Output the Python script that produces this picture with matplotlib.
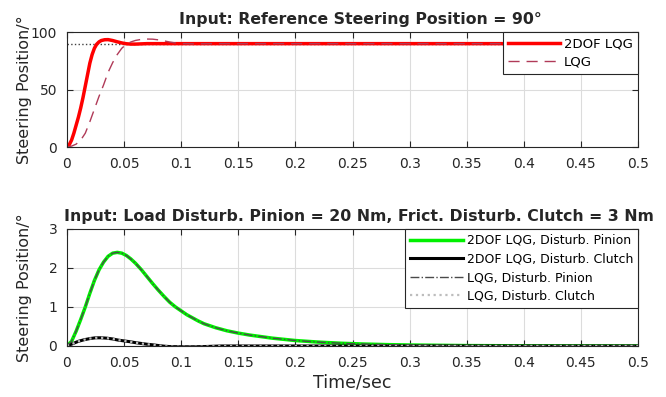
import matplotlib.pyplot as plt

plt.rcParams['font.family'] = ['DejaVu Sans']

# Step response to 90 deg reference
t_ref = [0, 0.002, 0.004, 0.006, 0.008, 0.010, 0.012, 0.014, 0.016, 0.018,
         0.020, 0.022, 0.024, 0.026, 0.028, 0.030, 0.033, 0.036, 0.040, 0.044,
         0.048, 0.052, 0.056, 0.060, 0.065, 0.070, 0.080, 0.5]
pos_2dof = [0, 2, 6, 12, 19, 26, 34, 43, 53, 63,
            73, 80.5, 86, 89.5, 91.5, 92.7, 93.4, 93.5, 92.7, 91.6,
            90.6, 89.9, 89.6, 89.6, 89.8, 90, 90, 90]

t_lqg = [0, 0.004, 0.008, 0.012, 0.016, 0.020, 0.024, 0.028, 0.032, 0.036,
         0.040, 0.044, 0.048, 0.052, 0.056, 0.060, 0.065, 0.070, 0.075, 0.080,
         0.085, 0.090, 0.095, 0.100, 0.110, 0.120, 0.130, 0.5]
pos_lqg = [0, 0.8, 2.5, 6, 12, 22, 33, 44, 54, 65,
           73.5, 80.5, 86, 89.5, 91.5, 92.8, 93.7, 94, 93.9, 93.3,
           92.4, 91.4, 90.6, 90.1, 89.8, 89.9, 90, 90]

ref_t = [0, 0.5]
ref_pos = [90, 90]

# Disturbance responses
t_pin = [0, 0.004, 0.008, 0.012, 0.016, 0.020, 0.024, 0.028, 0.032, 0.036,
         0.040, 0.044, 0.048, 0.052, 0.056, 0.060, 0.065, 0.070, 0.075, 0.080,
         0.085, 0.090, 0.095, 0.100, 0.105, 0.110, 0.115, 0.120, 0.130, 0.140,
         0.150, 0.160, 0.170, 0.180, 0.190, 0.200, 0.220, 0.240, 0.260, 0.280,
         0.300, 0.350, 0.400, 0.500]
pinion = [0, 0.12, 0.38, 0.68, 1.0, 1.35, 1.68, 1.95, 2.15, 2.3,
          2.38, 2.4, 2.38, 2.32, 2.23, 2.12, 1.96, 1.78, 1.6, 1.43,
          1.27, 1.12, 1.0, 0.9, 0.8, 0.72, 0.64, 0.57, 0.47, 0.39,
          0.33, 0.28, 0.24, 0.2, 0.17, 0.14, 0.1, 0.07, 0.05, 0.035,
          0.025, 0.01, 0.004, 0]

t_clu = [0, 0.005, 0.010, 0.015, 0.020, 0.025, 0.030, 0.035, 0.040, 0.045,
         0.050, 0.055, 0.060, 0.065, 0.070, 0.075, 0.080, 0.085, 0.090, 0.100,
         0.110, 0.120, 0.130, 0.135, 0.500]
clutch = [0, 0.06, 0.12, 0.16, 0.19, 0.21, 0.21, 0.2, 0.18, 0.15,
          0.13, 0.11, 0.085, 0.065, 0.045, 0.03, 0.012, -0.005, -0.015, -0.02,
          -0.02, -0.015, -0.005, 0, 0]

xticks = [0, 0.05, 0.1, 0.15, 0.2, 0.25, 0.3, 0.35, 0.4, 0.45, 0.5]
xlabels = ['0', '0.05', '0.1', '0.15', '0.2', '0.25', '0.3', '0.35', '0.4', '0.45', '0.5']

fig = plt.figure(figsize=(6.66, 3.97), dpi=100)
ax1 = fig.add_axes([0.1006, 0.6297, 0.8574, 0.2893])
ax2 = fig.add_axes([0.1006, 0.1285, 0.8574, 0.2947])


def style(ax):
    ax.set_xlim(0, 0.5)
    ax.set_xticks(xticks)
    ax.set_xticklabels(xlabels)
    ax.grid(True, color='#dcdcdc', linewidth=0.8)
    ax.set_axisbelow(True)
    ax.tick_params(direction='in', top=True, right=True, labelsize=10,
                   colors='#262626', length=4, width=0.8, pad=7)
    for s in ax.spines.values():
        s.set_color('#262626')
        s.set_linewidth(0.8)
    ax.set_ylabel('Steering Position/°', fontsize=11.5, color='#262626')
    ax.yaxis.set_label_coords(-0.062, 0.5)


# top panel
ax1.plot(ref_t, ref_pos, ':', color='#404040', linewidth=1)
l1, = ax1.plot(t_ref, pos_2dof, '-', color='#ff0000', linewidth=2.5, label='2DOF LQG')
l2, = ax1.plot(t_lqg, pos_lqg, '--', color='#b03a58', linewidth=1, dashes=(8, 5), label='LQG')
ax1.set_ylim(0, 100)
ax1.set_yticks([0, 50, 100])
style(ax1)
ax1.set_title('Input: Reference Steering Position = 90°', fontsize=11.3,
              fontweight='bold', color='#262626', pad=6, x=0.514)
leg1 = ax1.legend(handles=[l1, l2], loc='upper right', bbox_to_anchor=(1, 1),
                  borderaxespad=0, fontsize=9.5, fancybox=False, framealpha=1,
                  edgecolor='#262626', handlelength=3.9, handletextpad=0.3,
                  labelspacing=0.4, borderpad=0.4)
leg1.get_frame().set_linewidth(0.8)

# bottom panel
ax2.plot(t_pin, pinion, '-', color='#00f000', linewidth=2.5, label='2DOF LQG, Disturb. Pinion')
ax2.plot(t_clu, clutch, '-', color='#000000', linewidth=2.2, label='2DOF LQG, Disturb. Clutch')
ax2.plot(t_pin, pinion, '-.', color='#4a4a4a', linewidth=1, label='LQG, Disturb. Pinion')
ax2.plot(t_clu, clutch, ':', color='#bdbdbd', linewidth=1.6, label='LQG, Disturb. Clutch')
ax2.set_ylim(0, 3)
ax2.set_yticks([0, 1, 2, 3])
style(ax2)
ax2.set_xlabel('Time/sec', fontsize=12.5, color='#262626', labelpad=3)
ax2.set_title('Input: Load Disturb. Pinion = 20 Nm, Frict. Disturb. Clutch = 3 Nm',
              fontsize=11.3, fontweight='bold', color='#262626', pad=6, x=0.512)
leg2 = ax2.legend(loc='upper right', bbox_to_anchor=(1, 1), borderaxespad=0,
                  fontsize=9, fancybox=False, framealpha=1, edgecolor='#262626',
                  handlelength=4.2, handletextpad=0.3, labelspacing=0.45,
                  borderpad=0.4)
leg2.get_frame().set_linewidth(0.8)

fig.savefig('out.png', dpi=100)
